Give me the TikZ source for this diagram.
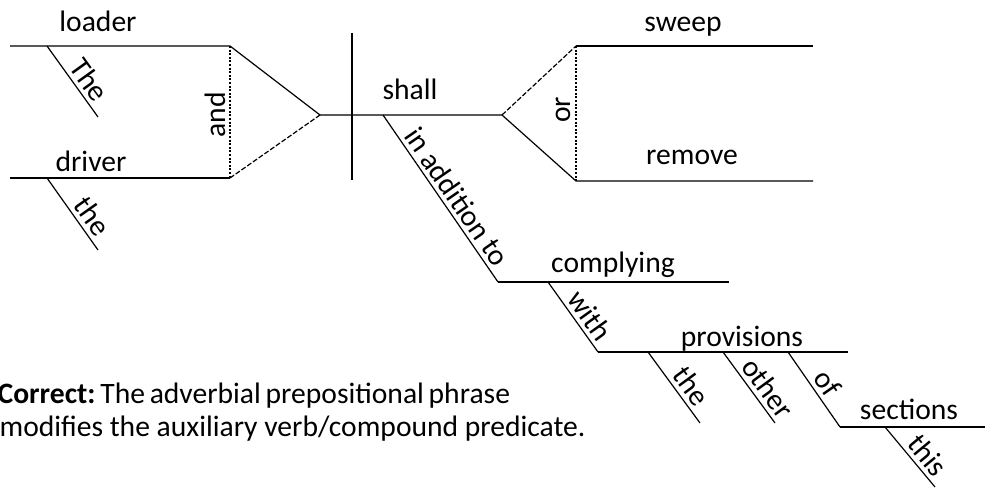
\documentclass[tikz,border=0pt]{standalone}
\usepackage{fontspec}
\setmainfont{Carlito}
\begin{document}
\begin{tikzpicture}[x=0.5pt,y=-0.5pt,line width=0.6pt,
    word/.style={font=\fontsize{14.8}{17}\selectfont,inner sep=0pt,anchor=base},
    slant/.style={font=\fontsize{14.8}{17}\selectfont,sloped,above,inner sep=2pt},
    conj/.style={font=\fontsize{14.8}{17}\selectfont,rotate=90,inner sep=0pt},
    note/.style={font=\fontsize{14.8}{17}\selectfont,anchor=base west,inner sep=0pt},
    dashline/.style={dash pattern=on 2.5pt off 1pt},
    dotline/.style={dash pattern=on 1pt off 0.8pt}]
    \useasboundingbox (0,0) rectangle (987,492);
    % subject: loader and driver
    \coordinate (loaderL) at (10,46);
    \coordinate (loaderR) at (230,46);
    \coordinate (driverL) at (10,178);
    \coordinate (driverR) at (230,178);
    \coordinate (join) at (320,115);
    \draw (loaderL) -- (loaderR) -- (join);
    \draw (driverL) -- (driverR);
    \draw[dashline] (driverR) -- (join);
    \draw[dotline] (loaderR) -- (driverR);
    \node[word] (loader) at (98,32) {loader};
    \node[word] (driver) at (91,172) {driver};
    \node[conj] (and) at (215,115) {and};
    \draw (47,46) coordinate (theA) -- (98,117) coordinate (theB) node[slant,pos=0.6] (the1) {The};
    \draw (47,178) coordinate (theC) -- (98,250) coordinate (theD) node[slant,pos=0.65] (the2) {the};
    % predicate: shall sweep or remove
    \coordinate (fork) at (502,115);
    \coordinate (divT) at (352,33);
    \coordinate (divB) at (352,180);
    \coordinate (sweepL) at (576,46);
    \coordinate (sweepR) at (813,46);
    \coordinate (removeL) at (576,181);
    \coordinate (removeR) at (813,181);
    \draw (join) -- (fork) -- (removeL) -- (removeR);
    \draw (divT) -- (divB);
    \draw[dashline] (fork) -- (sweepL);
    \draw (sweepL) -- (sweepR);
    \draw[dotline] (sweepL) -- (removeL);
    \node[word] (shall) at (410,100) {shall};
    \node[word] (sweep) at (683,32) {sweep};
    \node[word] (remove) at (692,165) {remove};
    \node[conj] (or) at (563,110) {or};
    % in addition to complying with ...
    \coordinate (inA) at (383,115);
    \coordinate (complyL) at (498,282);
    \coordinate (complyR) at (729,282);
    \coordinate (withA) at (548,282);
    \coordinate (provL) at (598,352);
    \coordinate (provR) at (848,352);
    \coordinate (sectL) at (840,427);
    \coordinate (sectR) at (985,427);
    \draw (inA) -- (complyL) node[slant,pos=0.54] (inadd) {in addition to};
    \draw (complyL) -- (complyR);
    \draw (withA) -- (provL) node[slant,pos=0.6] (with) {with};
    \draw (provL) -- (provR);
    \draw (648,352) coordinate (theE) -- (700,423) node[slant,pos=0.6] (the3) {the};
    \draw (723,352) coordinate (othA) -- (775,423) node[slant,pos=0.63] (other) {other};
    \draw (788,352) coordinate (ofA) -- (sectL) node[slant,pos=0.53] (of) {of};
    \draw (sectL) -- (sectR);
    \draw (885,427) coordinate (thisA) -- (935,487) node[slant,pos=0.63] (this) {this};
    \node[word] (complying) at (613,272) {complying};
    \node[word] (provisions) at (742,347) {provisions};
    \node[word] (sections) at (909,420) {sections};
    % caption
    \node[note] (note1) at (-3,403)
        {\frenchspacing\spaceskip=0.16em\relax\textbf{Correct:} The adverbial prepositional phrase};
    \node[note] (note2) at (-1,437) {modifies the auxiliary verb/compound predicate.};
\end{tikzpicture}
\end{document}
